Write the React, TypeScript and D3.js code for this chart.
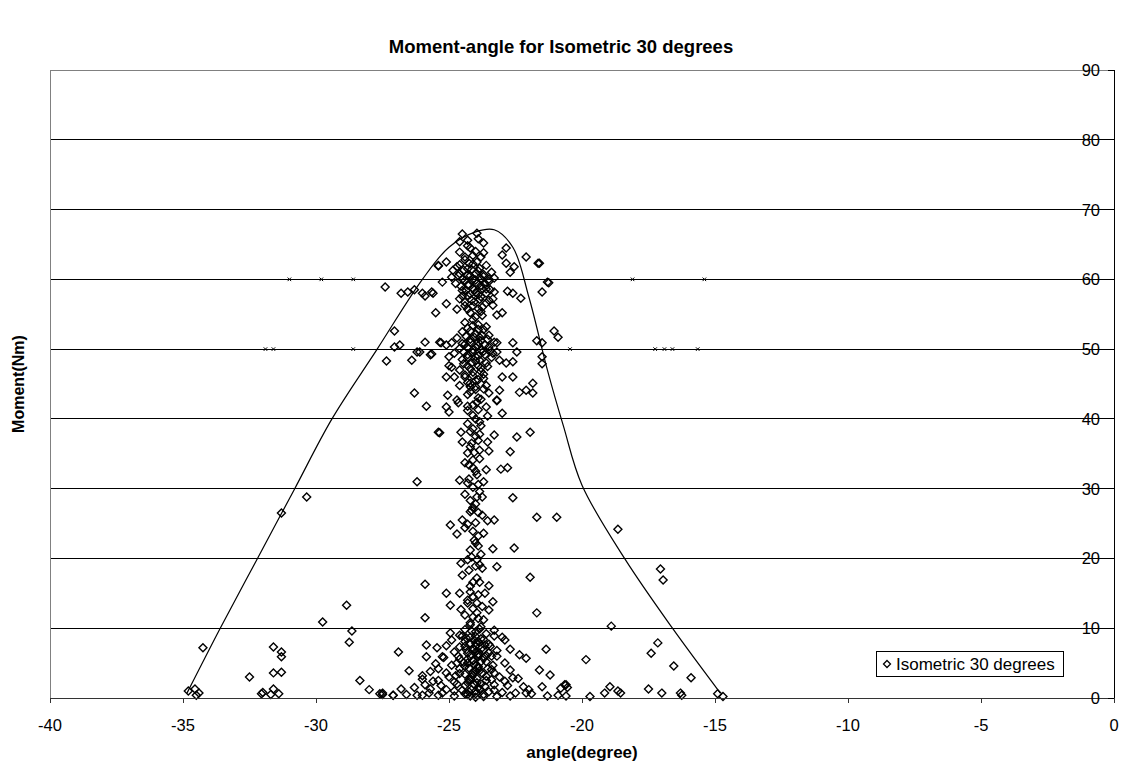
import React from "react";
import * as d3 from "d3";

const chartTitle = "Moment-angle for Isometric 30 degrees";
const xTitle = "angle(degree)";
const yTitle = "Moment(Nm)";
const seriesName = "Isometric 30 degrees";

const xTicks = [-40, -35, -30, -25, -20, -15, -10, -5, 0];
const yTicks = [0, 10, 20, 30, 40, 50, 60, 70, 80, 90];

// envelope drawn over the scatter
const envelope: [number, number][] = [
  [-34.85, 0.7], [-33.6, 10], [-32.2, 20], [-30.8, 30], [-29.4, 40], [-27.7, 50],
  [-26.0, 60], [-25.0, 64.6], [-24.0, 66.8], [-23.3, 67.1], [-22.6, 64.6], [-22.0, 57.5],
  [-21.3, 47], [-20.7, 39], [-20.0, 30.5], [-18.4, 20], [-16.6, 10], [-14.8, 0.7],
];

// tiny marks sitting on the 50 / 60 lines
const lineMarks: [number, number][] = [
  [-31.0, 60], [-29.8, 60], [-28.6, 60], [-18.1, 60], [-15.4, 60],
  [-31.9, 50], [-31.6, 50], [-28.6, 50], [-20.45, 50], [-17.25, 50], [-16.9, 50], [-16.6, 50], [-15.65, 50],
];

// the dense column around -24 degrees
const spine: [number, number][] = [
  [-24.3, 0.5], [-24.0, 0.6], [-23.7, 0.5], [-24.15, 1.2], [-23.85, 1.3], [-24.4, 1.8], [-24.05, 1.9],
  [-23.65, 1.7], [-24.25, 2.6], [-23.95, 2.8], [-23.6, 2.5], [-24.4, 3.4], [-24.1, 3.6], [-23.75, 3.5],
  [-24.25, 4.3], [-23.9, 4.5], [-23.55, 4.2], [-24.45, 5.1], [-24.1, 5.3], [-23.8, 5.2], [-24.2, 6.0],
  [-23.9, 6.3], [-23.6, 6.1], [-24.35, 6.9], [-24.05, 7.0], [-23.75, 7.2], [-24.2, 7.8], [-23.9, 8.1],
  [-24.35, 8.6], [-24.0, 8.8], [-23.7, 8.4], [-24.15, 9.6], [-23.85, 9.9], [-24.25, 0.9], [-23.95, 2.2],
  [-24.15, 3.0], [-23.85, 3.9], [-24.05, 4.8], [-23.7, 5.7], [-24.3, 5.6], [-24.0, 6.6], [-23.65, 7.6],
  [-24.4, 7.4], [-24.05, 8.3], [-24.8, 1.0], [-23.3, 1.1], [-24.7, 2.0], [-23.4, 2.6], [-24.75, 3.2],
  [-23.3, 3.6], [-24.6, 4.2], [-23.35, 4.7], [-24.7, 5.0], [-23.5, 6.5], [-24.65, 6.0], [-23.45, 7.4],
  [-24.2, 10.8], [-23.9, 11.4], [-24.1, 12.8], [-24.3, 14.0], [-23.9, 14.8], [-24.2, 16.0], [-23.95, 17.2],
  [-24.25, 18.3], [-24.0, 18.9], [-23.8, 20.6], [-24.2, 21.2], [-24.05, 22.6], [-23.9, 23.2], [-24.3, 24.9],
  [-24.0, 25.1], [-23.9, 26.6], [-24.1, 27.3], [-23.85, 29.6], [-24.1, 30.2], [-24.3, 30.8], [-23.9, 30.6],
  [-24.0, 32.5], [-24.25, 33.4], [-23.85, 34.3], [-24.05, 35.2], [-24.2, 36.0], [-23.9, 36.9], [-24.0, 37.5],
  [-24.2, 38.2], [-23.85, 39.6], [-24.1, 40.5], [-24.3, 41.2], [-23.9, 41.3], [-24.1, 42.0], [-23.8, 42.8],
  [-24.2, 43.9], [-24.0, 44.6], [-23.7, 44.3], [-24.3, 45.2], [-24.0, 45.5], [-23.7, 45.8], [-24.4, 46.3],
  [-24.1, 46.2], [-23.8, 46.8], [-24.2, 47.2], [-23.9, 47.6], [-23.55, 47.5], [-24.45, 47.9], [-24.15, 48.0],
  [-23.85, 48.4], [-24.3, 48.8], [-24.0, 48.9], [-23.65, 49.2], [-24.45, 49.6], [-24.1, 49.5], [-23.8, 49.9],
  [-23.45, 49.8], [-24.3, 50.2], [-24.0, 50.3], [-23.65, 50.6], [-24.5, 50.8], [-24.2, 51.0], [-23.9, 51.0],
  [-23.55, 51.4], [-24.35, 51.8], [-24.05, 51.7], [-23.75, 52.0], [-24.2, 52.6], [-23.9, 52.8], [-24.1, 53.4],
  [-23.6, 53.2], [-24.4, 53.8], [-24.0, 54.6], [-23.8, 55.4], [-24.3, 55.7], [-24.1, 56.2], [-23.75, 56.0],
  [-24.4, 56.7], [-24.15, 57.0], [-23.85, 57.1], [-23.5, 57.0], [-24.5, 57.6], [-24.2, 57.9], [-23.9, 57.8],
  [-23.6, 58.0], [-24.35, 58.4], [-24.05, 58.5], [-23.75, 58.7], [-23.45, 58.5], [-24.55, 59.0], [-24.25, 59.2],
  [-23.95, 59.4], [-23.65, 59.3], [-24.4, 59.8], [-24.1, 60.0], [-23.8, 60.1], [-23.5, 60.0], [-24.65, 60.5],
  [-24.3, 60.6], [-24.0, 60.8], [-23.7, 60.7], [-24.45, 61.3], [-24.15, 61.4], [-23.85, 61.6], [-24.6, 62.1],
  [-24.25, 62.3], [-23.95, 62.5], [-24.4, 63.2], [-24.1, 63.4], [-23.7, 63.8], [-24.3, 64.8], [-24.6, 65.4],
  [-23.9, 65.8],
];

const topCluster: [number, number][] = [
  [-24.5, 66.5], [-23.95, 66.6], [-24.3, 65.6], [-23.7, 65.2], [-24.2, 64.5], [-24.6, 63.9], [-22.85, 64.5],
  [-22.1, 63.2], [-21.6, 62.3], [-23.0, 63.5], [-25.4, 62.0], [-25.1, 62.5], [-24.85, 61.3], [-25.25, 59.6],
  [-24.0, 64.0], [-23.8, 63.2], [-24.4, 62.8], [-24.1, 62.2], [-23.6, 62.0], [-24.7, 61.8], [-24.3, 61.5],
  [-23.9, 61.2], [-23.4, 61.0], [-24.6, 60.8], [-24.2, 60.5], [-23.7, 60.4], [-23.3, 60.2], [-24.9, 60.3],
  [-24.5, 60.0], [-24.0, 59.9], [-23.5, 59.7], [-24.75, 59.4], [-24.3, 59.2], [-23.8, 59.1], [-24.1, 58.7],
  [-23.6, 58.6], [-24.5, 58.4], [-24.0, 58.1], [-23.3, 58.2], [-24.3, 57.7], [-23.8, 57.5], [-24.6, 57.2],
  [-24.05, 56.8], [-23.6, 56.6], [-24.4, 56.2], [-23.9, 55.8], [-24.2, 55.2], [-23.75, 54.8], [-24.1, 54.2],
  [-23.9, 53.5], [-24.3, 53.0], [-23.7, 52.8], [-25.65, 58.2], [-25.1, 56.5], [-24.7, 55.7], [-23.35, 57.2],
  [-23.2, 54.9], [-23.0, 55.2], [-22.8, 58.3], [-22.6, 58.0], [-22.3, 57.3], [-22.85, 62.3], [-22.55, 61.8],
  [-22.7, 61.0], [-21.65, 62.3], [-21.3, 59.6], [-21.25, 59.5], [-21.5, 58.2], [-23.35, 56.3],
  [-27.4, 58.9], [-26.8, 58.0], [-26.55, 58.2], [-26.3, 58.5], [-26.0, 58.0], [-25.9, 57.6], [-25.6, 58.0],
  [-25.5, 55.2], [-25.4, 61.9],
];

const midCluster: [number, number][] = [
  [-24.5, 52.5], [-24.0, 52.2], [-23.5, 52.0], [-24.7, 51.6], [-24.2, 51.4], [-23.8, 51.2], [-23.3, 51.0],
  [-24.9, 50.9], [-24.4, 50.7], [-23.9, 50.5], [-23.5, 50.3], [-24.6, 50.1], [-24.1, 49.9], [-23.7, 49.7],
  [-23.2, 49.6], [-24.8, 49.4], [-24.3, 49.2], [-23.9, 49.0], [-23.4, 48.8], [-24.5, 48.5], [-24.0, 48.3],
  [-23.6, 48.0], [-24.3, 47.6], [-23.8, 47.3], [-24.6, 47.0], [-24.1, 46.7], [-23.7, 46.4], [-24.4, 46.0],
  [-23.9, 45.6], [-24.2, 45.1], [-23.6, 44.8], [-24.0, 44.2], [-24.3, 43.5], [-23.9, 43.0],
  [-27.05, 52.6], [-26.85, 50.6], [-27.05, 50.3], [-27.35, 48.3], [-26.4, 48.4], [-26.2, 49.6], [-26.1, 49.6],
  [-25.9, 51.0], [-25.65, 49.3], [-26.3, 43.7], [-25.85, 41.8], [-25.4, 38.1], [-21.05, 52.6], [-20.9, 51.7],
  [-21.7, 51.2], [-21.5, 50.9], [-21.5, 48.9], [-21.5, 47.9], [-23.2, 50.9], [-22.6, 50.9], [-22.45, 49.6],
  [-23.1, 48.4], [-22.85, 48.0], [-25.3, 50.9], [-25.0, 47.6], [-25.1, 50.6], [-25.35, 51.0], [-25.7, 49.2],
  [-25.0, 48.9], [-24.9, 47.4], [-24.8, 46.0], [-25.1, 46.0], [-24.6, 44.8], [-24.2, 44.6], [-25.05, 43.4],
  [-24.7, 42.7], [-23.5, 43.7], [-23.1, 44.1], [-22.6, 46.0], [-23.0, 46.0], [-21.85, 45.1], [-22.35, 43.8],
  [-22.1, 44.1], [-21.85, 43.7], [-23.2, 42.7], [-22.6, 48.2], [-23.35, 49.4], [-23.85, 51.7],
];

const lowerColumn: [number, number][] = [
  [-25.1, 41.7], [-25.0, 41.0], [-24.65, 42.3], [-24.3, 41.8], [-23.95, 42.4], [-23.6, 41.7], [-23.0, 40.8],
  [-23.2, 42.6], [-23.55, 40.4], [-25.35, 38.0], [-24.55, 38.1], [-23.85, 37.8], [-23.3, 37.7], [-22.45, 37.4],
  [-21.95, 38.1], [-24.5, 36.7], [-24.15, 36.5], [-23.55, 36.7], [-23.85, 35.5], [-23.5, 35.4], [-24.3, 35.1],
  [-22.7, 35.3], [-24.4, 33.7], [-24.1, 34.1], [-24.1, 33.0], [-23.6, 32.7], [-23.05, 32.8], [-22.8, 33.0],
  [-24.6, 31.2], [-24.25, 31.4], [-23.95, 32.0], [-23.7, 31.0], [-24.4, 29.2], [-23.95, 28.8], [-23.75, 28.8],
  [-22.6, 28.7], [-24.0, 40.0], [-24.3, 39.3], [-23.8, 39.0], [-24.1, 38.6], [-26.2, 31.0],
  [-21.7, 25.9], [-20.95, 25.9], [-24.2, 26.7], [-24.15, 26.9], [-23.75, 26.2], [-23.55, 25.4], [-23.3, 25.5],
  [-24.5, 25.5], [-24.95, 24.8], [-24.7, 23.5], [-24.4, 24.4], [-24.1, 23.9], [-23.7, 23.6], [-23.35, 21.4],
  [-22.55, 21.5], [-24.0, 22.2], [-23.9, 21.8], [-24.15, 20.2], [-24.3, 19.8], [-23.95, 19.8], [-23.85, 19.1],
  [-23.75, 18.6], [-24.55, 19.3], [-24.5, 17.6], [-23.2, 18.8], [-21.95, 17.3], [-25.9, 16.3], [-25.1, 15.0],
  [-24.1, 16.6], [-23.85, 16.6], [-23.5, 16.1], [-24.6, 15.0], [-24.2, 15.2], [-24.1, 14.5], [-23.65, 15.0],
  [-24.95, 13.3], [-24.55, 12.7], [-24.3, 13.6], [-23.95, 13.6], [-23.75, 13.1], [-23.35, 13.8], [-23.5, 12.6],
  [-25.9, 11.5], [-21.7, 12.2], [-24.4, 11.9], [-24.1, 11.6], [-23.7, 11.2], [-23.95, 12.2], [-24.0, 27.8],
  [-24.2, 28.3],
];

const bottomCluster: [number, number][] = [
  [-24.2, 10.5], [-23.8, 10.2], [-24.4, 9.8], [-24.0, 9.5], [-23.6, 9.2], [-24.6, 9.0], [-24.2, 8.7],
  [-23.8, 8.5], [-24.9, 8.3], [-24.4, 8.1], [-24.0, 7.9], [-23.5, 7.7], [-25.1, 7.5], [-24.6, 7.3],
  [-24.1, 7.1], [-23.7, 6.9], [-23.2, 6.8], [-24.8, 6.6], [-24.3, 6.4], [-23.9, 6.2], [-23.4, 6.0],
  [-25.2, 5.8], [-24.6, 5.6], [-24.1, 5.4], [-23.6, 5.2], [-22.9, 5.0], [-25.5, 4.9], [-24.9, 4.7],
  [-24.4, 4.5], [-23.9, 4.3], [-23.4, 4.1], [-22.7, 4.0], [-25.7, 3.8], [-25.1, 3.6], [-24.6, 3.5],
  [-24.1, 3.3], [-23.6, 3.1], [-23.1, 3.0], [-22.4, 2.8], [-26.0, 2.7], [-25.4, 2.5], [-24.8, 2.3],
  [-24.3, 2.2], [-23.8, 2.0], [-23.3, 1.9], [-22.8, 1.8], [-22.2, 1.6], [-26.3, 1.5], [-25.7, 1.3],
  [-25.1, 1.2], [-24.5, 1.1], [-24.0, 1.0], [-23.5, 0.9], [-23.0, 0.8], [-22.5, 0.7], [-21.9, 0.6],
  [-26.6, 0.5], [-26.0, 0.4], [-25.4, 0.4], [-24.8, 0.3], [-24.2, 0.3], [-23.7, 0.2], [-23.2, 0.2],
  [-22.7, 0.3], [-21.3, 0.3], [-20.9, 0.4], [-24.0, 0.1], [-24.4, 0.6], [-23.9, 1.5], [-24.2, 2.6],
  [-24.0, 3.9], [-24.3, 5.0], [-23.9, 5.9], [-24.0, 7.5], [-24.5, 8.9], [-23.3, 8.9], [-25.0, 3.0],
  [-22.9, 2.4], [-25.3, 1.8], [-22.0, 1.2], [-24.95, 9.3], [-23.3, 9.7], [-25.85, 7.6], [-25.45, 7.2],
  [-26.9, 6.6], [-25.85, 5.9], [-25.25, 5.9], [-23.0, 8.7], [-22.9, 8.3], [-22.7, 7.0], [-22.35, 6.2],
  [-22.1, 5.7], [-21.35, 7.0], [-23.2, 6.0], [-21.6, 4.0], [-21.2, 3.3], [-22.6, 2.9], [-25.9, 1.9],
  [-20.6, 1.9], [-20.8, 1.4], [-21.5, 1.6], [-22.1, 0.7], [-27.5, 0.7], [-27.1, 0.4], [-26.2, 0.4],
  [-25.75, 0.7], [-25.25, 0.7], [-26.5, 3.9], [-26.0, 3.2], [-25.6, 2.4], [-26.8, 1.3], [-25.4, 4.2],
];

const outliers: [number, number][] = [
  [-34.8, 1.0], [-34.55, 1.3], [-34.4, 0.7], [-34.5, 0.4], [-34.25, 7.2], [-32.5, 3.0], [-31.6, 3.6],
  [-31.3, 3.7], [-32.05, 0.6], [-32.0, 0.8], [-31.7, 0.5], [-31.6, 1.3], [-31.4, 0.6], [-31.6, 7.3],
  [-31.3, 6.6], [-31.3, 5.9], [-31.3, 26.5], [-30.35, 28.8], [-29.75, 10.9], [-28.85, 13.3], [-28.65, 9.6],
  [-28.75, 8.0], [-28.35, 2.5], [-28.0, 1.2], [-27.6, 0.6], [-27.5, 0.5], [-27.1, 0.4],
  [-18.65, 24.2], [-17.05, 18.5], [-16.95, 16.9], [-18.9, 10.3], [-17.15, 7.9], [-17.4, 6.4], [-19.85, 5.5],
  [-16.55, 4.6], [-15.9, 2.9], [-20.65, 1.9], [-20.55, 1.5], [-20.6, 0.3], [-19.7, 0.2], [-19.15, 0.7],
  [-18.95, 1.6], [-18.65, 1.0], [-18.55, 0.7], [-17.5, 1.3], [-17.0, 0.7], [-16.3, 0.7], [-16.25, 0.4],
  [-14.9, 0.6], [-14.7, 0.2],
];

const W = 1122;
const H = 768;
const plot = { left: 50, right: 1114, top: 70, bottom: 698 };
const font = "'Liberation Sans', Arial, sans-serif";

const diamond = (cx: number, cy: number, r: number) =>
  `M${cx},${cy - r}L${cx + r},${cy}L${cx},${cy + r}L${cx - r},${cy}Z`;

export default function App() {
  const x = d3.scaleLinear().domain([-40, 0]).range([plot.left, plot.right]);
  const y = d3.scaleLinear().domain([0, 90]).range([plot.bottom, plot.top]);

  const points = [...bottomCluster, ...lowerColumn, ...midCluster, ...topCluster, ...spine, ...outliers];

  const curve = d3
    .line<[number, number]>()
    .x((d) => x(d[0]))
    .y((d) => y(d[1]))
    .curve(d3.curveCatmullRom.alpha(0.5));

  const xMark = d3.symbol().type(d3.symbolX).size(10);

  return (
    <div style={{ position: "absolute", left: 0, top: 0 }}>
      <svg width={W} height={H} style={{ display: "block", background: "#fff" }} fontFamily={font}>
        <text x={W / 2} y={53} textAnchor="middle" fontSize={18.5} fontWeight="bold">
          {chartTitle}
        </text>

        {/* gridlines */}
        {yTicks.filter((t) => t > 0).map((t) => (
          <line key={"g" + t} x1={plot.left} x2={plot.right} y1={y(t)} y2={y(t)}
            stroke={t === 90 ? "#808080" : "#000"} strokeWidth={1} shapeRendering="crispEdges" />
        ))}
        <line x1={plot.left} x2={plot.left} y1={plot.top} y2={plot.bottom} stroke="#808080" shapeRendering="crispEdges" />

        {/* scatter */}
        <g fill="none" stroke="#000" strokeWidth={1.4}>
          {points.map((d, i) => (
            <path key={i} d={diamond(x(d[0]), y(d[1]), 4)} />
          ))}
        </g>
        <g fill="none" stroke="#000" strokeWidth={1}>
          {lineMarks.map((d, i) => (
            <path key={i} d={xMark() as string} transform={`translate(${x(d[0])},${y(d[1])})`} />
          ))}
        </g>

        <path d={curve(envelope) ?? ""} fill="none" stroke="#000" strokeWidth={1.2} />

        {/* x axis */}
        <line x1={plot.left} x2={plot.right} y1={plot.bottom} y2={plot.bottom} stroke="#333" shapeRendering="crispEdges" />
        {xTicks.map((t) => (
          <g key={"x" + t}>
            <line x1={x(t)} x2={x(t)} y1={plot.bottom} y2={plot.bottom + 5} stroke="#333" shapeRendering="crispEdges" />
            <text x={x(t)} y={plot.bottom + 33} textAnchor="middle" fontSize={16.5}>{t}</text>
          </g>
        ))}
        <text x={(plot.left + plot.right) / 2} y={758} textAnchor="middle" fontSize={17} fontWeight="bold">
          {xTitle}
        </text>

        {/* y axis on the right */}
        <line x1={plot.right} x2={plot.right} y1={plot.top} y2={plot.bottom} stroke="#000" shapeRendering="crispEdges" />
        {yTicks.map((t) => (
          <g key={"y" + t}>
            <line x1={plot.right - 6} x2={plot.right} y1={y(t)} y2={y(t)} stroke="#000" shapeRendering="crispEdges" />
            <text x={plot.right - 14} y={y(t) + 6} textAnchor="end" fontSize={16.5}>{t}</text>
          </g>
        ))}
        <text transform={`translate(24,${(plot.top + plot.bottom) / 2}) rotate(-90)`} textAnchor="middle"
          fontSize={16} fontWeight="bold">
          {yTitle}
        </text>

        {/* legend */}
        <rect x={876} y={651} width={187} height={25} fill="#fff" stroke="#000" shapeRendering="crispEdges" />
        <path d={diamond(887, 664, 3.5)} fill="none" stroke="#000" strokeWidth={1.3} />
        <text x={896} y={670} fontSize={17}>{seriesName}</text>
      </svg>
    </div>
  );
}
